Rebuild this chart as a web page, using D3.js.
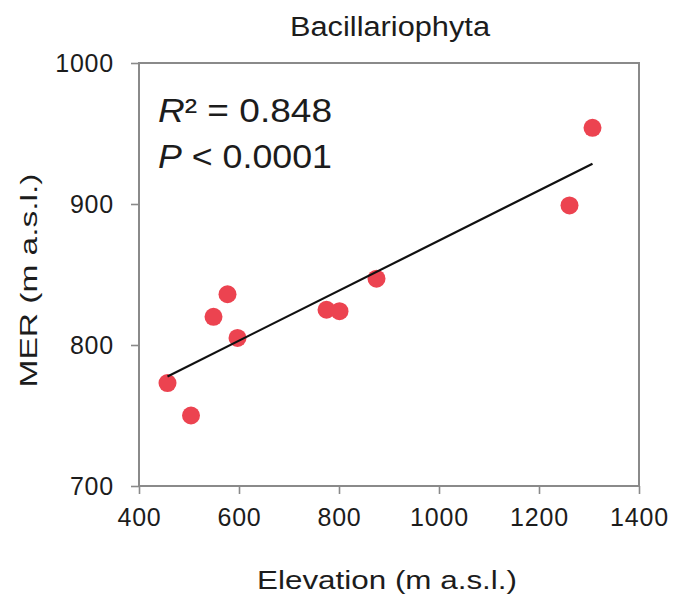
<!DOCTYPE html>
<html>
<head>
<meta charset="utf-8">
<script src="https://cdn.jsdelivr.net/npm/d3@7"></script>
<style>
body{margin:0;background:#fff}
text{font-family:"Liberation Sans",Arial,sans-serif;fill:#1c1c1c}
</style>
</head>
<body>
<svg id="graph1"></svg>
<script>
// values
var elevation=[457,504,549,577,597,775,801,875,1261,1307]
var mer=[773,750,820,836,805,825,824,847,899,954]
var xTicks=[400,600,800,1000,1200,1400]
var yTicks=[700,800,900,1000]
var titleText="Bacillariophyta"
var xLabelText="Elevation  (m a.s.l.)"
var yLabelText="MER (m a.s.l.)"
var r2Value="0.848"
var pValue="0.0001"

var initGraph=function()
    {
        var screen={width:675,height:602}
        var margins={left:139,right:36,top:63,bottom:116}

        var graph=
            {
                width:screen.width-margins.left-margins.right,
                height:screen.height-margins.top-margins.bottom
            }

        d3.select("#graph1")
            .attr("width",screen.width)
            .attr("height",screen.height)

        var target=d3.select("#graph1")
            .append("g")
            .attr("id","canvas")
            .attr("transform","translate("+margins.left+","+margins.top+")")

        var xScale=d3.scaleLinear()
            .domain([400,1400])
            .range([0,graph.width])

        var yScale=d3.scaleLinear()
            .domain([700,1000])
            .range([graph.height,0])

        drawAxes(graph,target,xScale,yScale)
        drawPoints(target,xScale,yScale)
        drawLabels(graph,margins,target)
    }

var drawAxes=function(graph,target,xScale,yScale)
    {
        var xAxis=d3.axisBottom(xScale)
            .tickValues(xTicks)
            .tickFormat(d3.format("d"))
            .tickSize(8)
            .tickSizeOuter(0)
            .tickPadding(14)
        target.append("g")
            .attr("class","xaxis")
            .attr("transform","translate(0,"+graph.height+")")
            .call(xAxis)

        var yAxis=d3.axisLeft(yScale)
            .tickValues(yTicks)
            .tickFormat(d3.format("d"))
            .tickSize(8)
            .tickSizeOuter(0)
            .tickPadding(17)
        target.append("g")
            .attr("class","yaxis")
            .call(yAxis)

        target.selectAll(".domain").remove()
        target.selectAll(".tick line")
            .attr("stroke","#8a8a8a")
            .attr("stroke-width",1.6)
        target.selectAll(".tick text")
            .attr("fill","#1c1c1c")
            .style("font-size","25px")
            .style("letter-spacing","0.8px")

        // frame
        target.append("rect")
            .attr("x",0)
            .attr("y",0)
            .attr("width",graph.width)
            .attr("height",graph.height)
            .attr("fill","none")
            .attr("stroke","#8a8a8a")
            .attr("stroke-width",2)
    }

var drawPoints=function(target,xScale,yScale)
    {
        var pts=elevation.map(function(e,i){return {x:e,y:mer[i]}})

        target.selectAll("circle")
            .data(pts)
            .enter()
            .append("circle")
            .attr("cx",function(d){return xScale(d.x)})
            .attr("cy",function(d){return yScale(d.y)})
            .attr("r",9)
            .attr("fill","#ec4350")

        // least squares fit of the points
        var mx=d3.mean(elevation)
        var my=d3.mean(mer)
        var sxy=d3.sum(elevation,function(e,i){return (e-mx)*(mer[i]-my)})
        var sxx=d3.sum(elevation,function(e){return (e-mx)*(e-mx)})
        var slope=sxy/sxx
        var fit=d3.extent(elevation).map(function(e){return {x:e,y:my+slope*(e-mx)}})

        var lineGenerator=d3.line()
            .x(function(d){return xScale(d.x)})
            .y(function(d){return yScale(d.y)})

        target.append("path")
            .datum(fit)
            .attr("d",lineGenerator)
            .attr("fill","none")
            .attr("stroke","#111")
            .attr("stroke-width",2.2)
    }

var drawLabels=function(graph,margins,target)
    {
        var labels=d3.select("#graph1")
            .append("g")
            .classed("labels",true)

        labels.append("text")
            .text(titleText)
            .attr("text-anchor","middle")
            .attr("font-size",27)
            .attr("textLength",200)
            .attr("lengthAdjust","spacingAndGlyphs")
            .attr("x",margins.left+graph.width/2+1)
            .attr("y",36)

        labels.append("text")
            .text(xLabelText)
            .attr("text-anchor","middle")
            .attr("font-size",25)
            .attr("textLength",260)
            .attr("lengthAdjust","spacingAndGlyphs")
            .attr("x",margins.left+graph.width/2-2)
            .attr("y",589)

        labels.append("g")
            .attr("transform","translate(37,"+(margins.top+graph.height/2+6)+")")
            .append("text")
            .text(yLabelText)
            .attr("text-anchor","middle")
            .attr("font-size",24)
            .attr("textLength",214)
            .attr("lengthAdjust","spacingAndGlyphs")
            .attr("transform","rotate(-90)")

        var r2=labels.append("text")
            .attr("x",158)
            .attr("y",122)
            .attr("font-size",34)
            .attr("textLength",174)
            .attr("lengthAdjust","spacingAndGlyphs")
        r2.append("tspan").attr("font-style","italic").text("R")
        r2.append("tspan").text("\u00b2 = "+r2Value)

        var p=labels.append("text")
            .attr("x",158)
            .attr("y",168)
            .attr("font-size",34)
            .attr("textLength",174)
            .attr("lengthAdjust","spacingAndGlyphs")
        p.append("tspan").attr("font-style","italic").text("P")
        p.append("tspan").text(" < "+pValue)
    }

initGraph()
</script>
</body>
</html>
